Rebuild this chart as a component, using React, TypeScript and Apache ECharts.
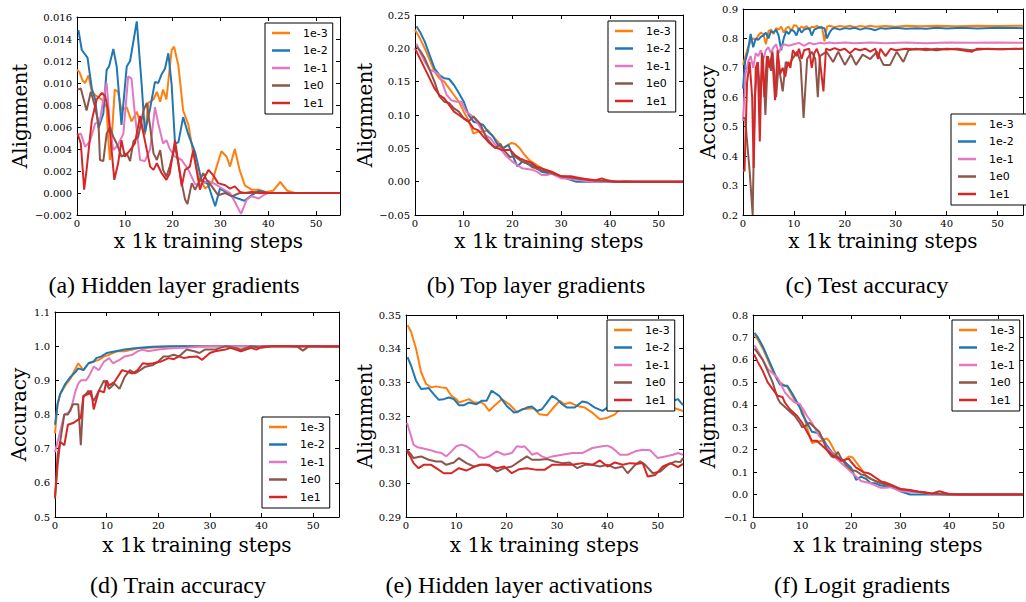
import React, { useEffect, useRef } from "react";
import * as echarts from "echarts";

type Pt = [number, number];

const SERIES_NAMES = ["1e-3", "1e-2", "1e-1", "1e0", "1e1"];
const COLORS = ["#ff7f0e", "#1f77b4", "#e377c2", "#8c564b", "#d62728"];
const X_MIN = 0;
const X_MAX = 55;
const X_STEP = 10;
const X_NAME = "x 1k training steps";

// (a) Hidden layer gradients
const hidGrad_1e3: Pt[] = [[0,0.0112],[0.5,0.011],[1.2,0.0102],[1.7,0.010],[2.4,0.0107],[3.1,0.0092],[4.1,0.0088],[5.2,0.0085],[6.2,0.0078],[6.5,0.0051],[6.9,0.003],[7.4,0.006],[7.9,0.0094],[8.6,0.0092],[9.3,0.0075],[10.4,0.0078],[11.4,0.0065],[12.5,0.0074],[13.5,0.006],[14.2,0.0053],[14.9,0.0082],[16,0.0085],[16.7,0.0092],[17.4,0.0083],[18,0.0094],[18.7,0.0085],[19.3,0.011],[19.8,0.013],[20.3,0.0133],[21.2,0.0116],[22.2,0.0075],[23.3,0.0062],[24.3,0.0036],[25.4,0.0015],[26.8,0.0004],[28.2,0.0009],[29.2,0.0024],[30.2,0.0038],[31.3,0.0033],[32,0.0024],[33,0.004],[34,0.0021],[35.1,0.0007],[36.5,0.0003],[38,0.0003],[39.5,0.0001],[41,0.0002],[42.5,0.001],[44,0.0002],[45.5,0],[55,0]];
const hidGrad_1e2: Pt[] = [[0.3,0.0148],[1,0.013],[2.2,0.0123],[3.1,0.0095],[3.8,0.0085],[4.5,0.0059],[5.5,0.0072],[6.2,0.0112],[6.7,0.0115],[7.6,0.0131],[8.3,0.0115],[9.3,0.0062],[10.4,0.0115],[11.1,0.012],[12.5,0.0156],[13.5,0.01],[14.2,0.0055],[15.3,0.0077],[16.3,0.0101],[17,0.01],[17.7,0.0108],[18.4,0.0113],[19.1,0.0127],[19.8,0.0098],[20.5,0.0045],[21.2,0.0046],[22.2,0.0069],[23.3,0.0053],[24.7,0.0037],[26,0.0012],[27.4,0.0008],[28.9,-0.0012],[29.9,0.0004],[31.5,0],[33,-0.0004],[35,-0.0007],[36.5,-0.0002],[38,0.0002],[40,0],[55,0]];
const hidGrad_1e1: Pt[] = [[0.3,0.0053],[0.8,0.0054],[1.7,0.0042],[2.7,0.0047],[3.8,0.0063],[4.8,0.0066],[5.5,0.0085],[6.2,0.010],[6.9,0.006],[7.6,0.0039],[8.6,0.0044],[9.7,0.0054],[10.7,0.0106],[11.4,0.0104],[12.1,0.0072],[13.2,0.003],[14.2,0.0029],[15.3,0.004],[16.3,0.0078],[17,0.0063],[18,0.0045],[18.7,0.0048],[19.4,0.004],[20.5,0.0033],[21.9,0.003],[23.3,0.0021],[24.7,0.0008],[26.1,0.0008],[27.5,0.0011],[28.9,0.0008],[30,0.0005],[32,0],[33,-0.0008],[34.3,-0.0019],[35.5,-0.0006],[36.5,-0.0003],[38,-0.0005],[39,-0.0002],[40,0],[55,0]];
const hidGrad_1e0: Pt[] = [[0.1,0.0094],[0.8,0.0095],[2,0.0075],[2.9,0.0092],[3.8,0.0078],[4.5,0.0063],[4.8,0.003],[5.5,0.0029],[6.2,0.0054],[6.9,0.006],[7.6,0.0051],[8.3,0.0045],[9.3,0.0033],[10.4,0.0036],[11.1,0.0029],[11.8,0.0047],[12.8,0.0051],[13.9,0.0075],[14.6,0.0082],[15.3,0.006],[16,0.0036],[16.7,0.003],[17.4,0.0039],[18,0.0021],[18.7,0.0015],[19.4,0.0024],[20.5,0.0042],[21.2,0.0027],[21.9,0.0009],[22.6,-0.0006],[23.1,-0.001],[24,0.0009],[24.7,0.0003],[25.4,0.0009],[26.4,0.0018],[27.1,0.0012],[28.2,0.0006],[29.5,-0.0002],[31,0],[32.4,-0.0003],[34,0],[36,0],[38,0.0001],[40,0],[55,0]];
const hidGrad_1e1b: Pt[] = [[0.1,0.0054],[0.8,0.0045],[1.5,0.0003],[2,0.0021],[3.1,0.0066],[4.1,0.0085],[5.2,0.0091],[5.9,0.0088],[6.5,0.0075],[7.3,0.0036],[7.8,0.0012],[8.6,0.0027],[9.3,0.0048],[10,0.0033],[11.1,0.0039],[12.1,0.0045],[13.2,0.007],[13.9,0.0054],[14.6,0.0039],[15.3,0.0024],[16,0.0021],[16.7,0.0027],[17.7,0.0018],[18.7,0.0012],[19.4,0.0018],[20.5,0.0048],[21.2,0.0027],[21.9,0.0006],[22.6,0.0021],[23.6,0.0024],[24.3,0.0039],[25,0.0021],[25.7,0.0003],[26.4,0.0012],[27.5,0.0021],[28.5,0.0016],[29.5,0.0009],[31,0.0007],[32,0.0004],[33,0.0006],[34.1,0.0001],[35.1,0],[36.5,0.0001],[38,0],[55,0]];

// (b) Top layer gradients
const topGrad_1e3: Pt[] = [[0,0.228],[1,0.215],[2,0.2],[3,0.183],[4,0.165],[5,0.155],[6,0.15],[7,0.14],[8,0.13],[9,0.12],[10,0.105],[11,0.092],[12,0.072],[13,0.075],[14,0.075],[15,0.077],[16,0.068],[17,0.06],[18,0.05],[19,0.055],[19.8,0.058],[20.5,0.057],[21.5,0.05],[22.5,0.04],[23.5,0.032],[25,0.025],[26.5,0.018],[28,0.015],[30,0.008],[32,0.006],[34,0.005],[36,0.002],[38,0.002],[40,0.001],[42,0],[43,0.001],[45,0],[55,0]];
const topGrad_1e2: Pt[] = [[0.3,0.233],[1,0.225],[2,0.21],[3,0.19],[4,0.17],[5,0.16],[6,0.155],[7,0.154],[8,0.145],[9,0.133],[10,0.12],[11,0.1],[12,0.09],[13,0.088],[14,0.085],[15,0.075],[16,0.068],[17,0.055],[18,0.05],[19.2,0.055],[20,0.04],[21,0.023],[22,0.03],[23,0.027],[24,0.025],[25,0.02],[26,0.015],[28,0.012],[29.5,0.008],[31,0.005],[33,0],[55,0]];
const topGrad_1e1: Pt[] = [[0.3,0.207],[1,0.195],[2,0.18],[3,0.168],[4,0.165],[5,0.16],[5.5,0.15],[6.5,0.13],[7.5,0.122],[8.5,0.12],[9.5,0.12],[10.5,0.105],[11.5,0.1],[12.5,0.092],[13.5,0.08],[14.5,0.07],[15.5,0.065],[16.5,0.055],[17.5,0.05],[18.5,0.04],[20,0.03],[21,0.025],[22,0.02],[24,0.018],[25,0.015],[26,0.01],[27,0.01],[28,0.012],[30,0.005],[32,0.004],[34,0.002],[36,0],[55,0]];
const topGrad_1e0: Pt[] = [[0.3,0.203],[1,0.197],[2,0.185],[3,0.168],[4,0.15],[5,0.128],[6,0.12],[7,0.118],[8,0.11],[9,0.105],[10,0.095],[11,0.09],[12,0.098],[13,0.09],[13.5,0.085],[14.5,0.068],[15.5,0.058],[16.5,0.05],[17.5,0.057],[18.5,0.045],[19.5,0.037],[20.5,0.038],[22,0.03],[23,0.028],[24,0.022],[26,0.017],[28,0.013],[30,0.008],[33,0.005],[36,0.002],[39,0.001],[41,0],[55,0]];
const topGrad_1e1b: Pt[] = [[0,0.2],[1,0.185],[2,0.17],[3,0.155],[4,0.14],[5,0.13],[6,0.125],[7,0.115],[8,0.105],[9,0.1],[10,0.095],[11,0.09],[12,0.08],[13,0.077],[14,0.068],[15,0.06],[16,0.053],[17,0.05],[18,0.047],[19.5,0.048],[20.5,0.04],[21.5,0.035],[22.5,0.032],[24,0.028],[25,0.022],[26,0.02],[28,0.015],[30,0.008],[32,0.008],[34,0.005],[35,0.004],[37,0.002],[38.3,0.005],[39.5,0.002],[41,0],[55,0]];

// (c) Test accuracy
const testAcc_1e3: Pt[] = [[0,0.71],[0.5,0.74],[1,0.77],[1.5,0.79],[2,0.8],[2.5,0.795],[3,0.81],[3.5,0.82],[4,0.815],[4.5,0.78],[5,0.825],[5.5,0.83],[6,0.815],[6.5,0.835],[7,0.83],[7.5,0.84],[8,0.82],[8.5,0.835],[9,0.84],[9.5,0.825],[10,0.845],[10.5,0.843],[11,0.83],[11.5,0.84],[12,0.835],[12.5,0.842],[13,0.83],[13.5,0.84],[14,0.838],[14.5,0.843],[15,0.835],[15.5,0.84],[16,0.79],[16.5,0.84],[17,0.843],[18,0.838],[19,0.842],[20,0.84],[21,0.843],[22,0.838],[23,0.842],[24,0.84],[25,0.843],[26,0.84],[28,0.842],[30,0.84],[32,0.843],[35,0.841],[38,0.843],[42,0.841],[46,0.843],[50,0.842],[55,0.843]];
const testAcc_1e2: Pt[] = [[0,0.63],[0.4,0.72],[1,0.76],[1.5,0.815],[2,0.77],[2.5,0.8],[3,0.795],[3.5,0.805],[4,0.81],[4.5,0.82],[5,0.8],[5.5,0.825],[6,0.82],[6.5,0.83],[7,0.81],[7.5,0.76],[8,0.8],[8.5,0.825],[9,0.815],[9.5,0.83],[10,0.825],[10.5,0.81],[11,0.835],[11.5,0.82],[12,0.83],[13,0.835],[13.5,0.81],[14,0.83],[15,0.838],[16,0.835],[16.5,0.8],[17,0.82],[17.5,0.832],[18,0.835],[19,0.83],[20,0.835],[21,0.833],[22,0.836],[23,0.83],[24,0.835],[25,0.833],[26,0.828],[27,0.835],[28,0.833],[30,0.836],[32,0.833],[34,0.835],[36,0.833],[38,0.836],[40,0.834],[43,0.836],[46,0.834],[50,0.836],[55,0.835]];
const testAcc_1e1: Pt[] = [[0,0.52],[0.5,0.68],[1,0.72],[1.5,0.74],[2,0.7],[2.5,0.75],[3,0.74],[3.5,0.76],[4,0.73],[4.5,0.76],[5,0.77],[5.5,0.75],[6,0.77],[6.5,0.78],[7,0.75],[7.5,0.77],[8,0.78],[9,0.775],[10,0.78],[11,0.785],[12,0.775],[13,0.785],[14,0.78],[15,0.785],[16,0.783],[17,0.786],[18,0.784],[20,0.786],[22,0.784],[25,0.786],[28,0.784],[32,0.786],[36,0.784],[40,0.786],[45,0.785],[50,0.786],[55,0.785]];
const testAcc_1e0: Pt[] = [[0,0.53],[0.4,0.53],[0.8,0.45],[1.3,0.35],[1.9,0.2],[2.3,0.6],[2.9,0.72],[3.4,0.6],[3.9,0.74],[4.4,0.54],[4.9,0.74],[5.5,0.69],[5.8,0.755],[6.5,0.6],[7,0.71],[7.8,0.62],[8.4,0.72],[9,0.71],[9.7,0.73],[10.6,0.755],[11.3,0.72],[11.9,0.53],[12.6,0.73],[13.5,0.755],[14.2,0.73],[14.7,0.6],[15.1,0.74],[16.4,0.755],[17.7,0.72],[18.7,0.755],[20,0.71],[21.2,0.745],[22.2,0.71],[23.5,0.745],[25,0.73],[26.3,0.755],[27.6,0.71],[28.9,0.71],[30.2,0.755],[31.5,0.72],[32.5,0.76],[34,0.765],[36,0.76],[38,0.765],[40,0.762],[42,0.765],[45,0.76],[48,0.765],[51,0.763],[55,0.765]];
const testAcc_1e1b: Pt[] = [[0,0.35],[0.3,0.35],[0.8,0.65],[1.3,0.72],[1.8,0.6],[2.1,0.36],[2.5,0.7],[2.9,0.72],[3.3,0.45],[3.7,0.75],[4.2,0.6],[4.7,0.74],[5.2,0.7],[5.7,0.75],[6.3,0.59],[6.8,0.76],[7.3,0.68],[7.8,0.7],[8.3,0.67],[8.8,0.72],[9.3,0.7],[9.8,0.76],[10.5,0.74],[11,0.765],[11.5,0.73],[12,0.76],[13,0.765],[13.5,0.7],[14,0.75],[14.5,0.765],[15,0.74],[15.8,0.62],[16.3,0.765],[17,0.76],[18,0.767],[19,0.76],[20,0.765],[21,0.75],[22,0.765],[23,0.76],[24,0.765],[25,0.755],[26,0.765],[26.5,0.73],[27,0.765],[28,0.74],[29,0.765],[30,0.76],[32,0.765],[34,0.762],[36,0.765],[38,0.76],[40,0.765],[42,0.762],[45,0.755],[46,0.765],[50,0.763],[55,0.765]];

// (d) Train accuracy
const trainAcc_1e3: Pt[] = [[0,0.745],[0.5,0.83],[1,0.86],[2,0.885],[3,0.905],[3.5,0.92],[4.5,0.95],[5.5,0.93],[6.5,0.95],[7.5,0.955],[8.5,0.96],[9.5,0.97],[10.5,0.975],[12,0.985],[13.5,0.985],[15,0.99],[16.5,0.995],[18,0.995],[20,0.997],[22,0.998],[25,1.0],[55,1.0]];
const trainAcc_1e2: Pt[] = [[0,0.77],[0.5,0.83],[1,0.86],[2,0.89],[3,0.91],[4,0.925],[4.5,0.935],[5.5,0.93],[6.5,0.95],[7.5,0.955],[8,0.965],[9,0.97],[10,0.98],[11,0.983],[12,0.986],[13.5,0.99],[15,0.993],[17,0.996],[19,0.998],[22,1.0],[55,1.0]];
const trainAcc_1e1: Pt[] = [[0,0.69],[0.5,0.72],[1,0.75],[1.8,0.8],[2.5,0.805],[3,0.81],[3.5,0.84],[4,0.87],[4.5,0.89],[5,0.9],[6,0.9],[6.5,0.91],[7.5,0.94],[8.5,0.93],[9.5,0.955],[10.5,0.965],[11.2,0.95],[12.5,0.96],[13.5,0.97],[15,0.975],[16,0.985],[17,0.99],[18,0.985],[20,0.99],[22,0.993],[25,0.995],[28,0.998],[30,1.0],[55,1.0]];
const trainAcc_1e0: Pt[] = [[0,0.555],[0.5,0.65],[1,0.72],[1.8,0.8],[2.5,0.8],[3.5,0.83],[4.5,0.83],[5,0.71],[5.5,0.85],[6.5,0.87],[7.5,0.84],[8.5,0.87],[9.5,0.9],[10.5,0.875],[11.5,0.89],[12.5,0.875],[13.5,0.91],[14.5,0.93],[15.5,0.92],[16.5,0.93],[17.5,0.94],[19,0.945],[20,0.955],[21,0.97],[22,0.97],[23,0.975],[24,0.97],[25.5,0.99],[27,0.985],[28,0.98],[29,0.99],[31,0.99],[33,1.0],[35,0.995],[36,0.99],[38,1.0],[40,0.995],[42,1.0],[45,1.0],[47,0.998],[48,0.987],[49,0.998],[50,1.0],[52,0.998],[55,0.998]];
const trainAcc_1e1b: Pt[] = [[0,0.555],[0.5,0.68],[1,0.72],[1.8,0.71],[2.5,0.77],[3.5,0.775],[4.5,0.785],[5,0.79],[5.5,0.855],[6.5,0.86],[7,0.87],[7.5,0.815],[8.5,0.87],[9.5,0.865],[10,0.9],[10.5,0.885],[11.5,0.895],[13,0.93],[14,0.925],[15,0.92],[16,0.93],[17,0.95],[18,0.948],[19,0.95],[20.5,0.955],[22,0.965],[23,0.962],[24,0.97],[25,0.965],[26,0.968],[27.5,0.97],[28.5,0.96],[30,0.98],[31,0.985],[33,0.99],[34,0.995],[36,0.985],[38,0.995],[39,0.99],[40,0.998],[42,1.0],[55,1.0]];

// (e) Hidden layer activations
const hidAct_1e3: Pt[] = [[0.3,0.347],[1,0.345],[2,0.34],[3,0.333],[4,0.3295],[5,0.3285],[6,0.3288],[7,0.3285],[8,0.3283],[9,0.326],[10,0.325],[10.5,0.324],[11.5,0.3245],[12.5,0.325],[13.5,0.324],[15,0.324],[15.5,0.3235],[16.5,0.3215],[17.5,0.323],[19,0.325],[20.5,0.3235],[21.5,0.322],[22,0.321],[23,0.322],[24.5,0.3222],[25.5,0.3222],[26.5,0.3205],[28,0.3202],[29,0.322],[30.5,0.3245],[31.5,0.3235],[32.5,0.324],[34,0.323],[35.5,0.3225],[37,0.321],[38.5,0.319],[40,0.3195],[41.5,0.3205],[43,0.323],[45,0.324],[47,0.323],[49,0.324],[51,0.3235],[53,0.3225],[55,0.3215]];
const hidAct_1e2: Pt[] = [[0.3,0.3375],[1,0.335],[2,0.3305],[3,0.328],[4,0.3282],[4.5,0.3283],[5.5,0.3265],[6.5,0.3248],[7.5,0.325],[8.5,0.3255],[9.5,0.325],[10.5,0.3232],[11.5,0.3232],[12.5,0.324],[14,0.3235],[15,0.3245],[16,0.3245],[17,0.3275],[18.5,0.326],[20,0.323],[21.5,0.321],[22.5,0.3215],[24,0.3225],[25,0.3228],[26,0.3215],[27,0.322],[28,0.324],[29,0.326],[30,0.325],[31,0.3235],[32,0.3225],[33.5,0.3225],[35,0.3243],[36,0.324],[37.5,0.3225],[39,0.3215],[40,0.3225],[42,0.3235],[44,0.323],[46,0.3245],[48,0.324],[50,0.3235],[52,0.324],[54,0.325],[55,0.3232]];
const hidAct_1e1: Pt[] = [[0.2,0.318],[0.8,0.315],[1.5,0.3115],[2.3,0.3107],[3,0.3105],[4.5,0.31],[6,0.3093],[7,0.309],[8,0.308],[9,0.3095],[10,0.311],[11,0.3115],[12,0.311],[13.5,0.3095],[14.5,0.3078],[15.5,0.3075],[16.5,0.308],[18,0.3095],[19.5,0.3085],[21,0.309],[22,0.311],[23,0.3108],[23.5,0.311],[24.5,0.3095],[25,0.3085],[26,0.309],[27,0.308],[28,0.3075],[29,0.308],[31,0.3085],[33,0.309],[35,0.309],[37,0.3105],[39,0.311],[40,0.3112],[41,0.3105],[42.5,0.3085],[44,0.3085],[45.5,0.3095],[47,0.31],[48.5,0.3098],[50,0.3075],[51.5,0.308],[53,0.3085],[54,0.309],[55,0.3085]];
const hidAct_1e0: Pt[] = [[0.2,0.31],[1,0.3085],[1.5,0.3075],[3,0.308],[4.5,0.307],[6,0.3065],[7,0.3065],[8,0.3055],[9.5,0.3062],[10.5,0.3075],[12,0.306],[13.5,0.305],[15,0.3055],[16.5,0.3055],[18,0.3035],[19.5,0.3045],[21,0.305],[22.5,0.3065],[24,0.308],[25,0.307],[26.5,0.307],[28,0.3072],[29.5,0.3065],[31,0.306],[32.5,0.3062],[34,0.3045],[35.5,0.3055],[37,0.3055],[38.5,0.305],[40,0.3055],[41.5,0.3045],[43,0.305],[44,0.303],[45.5,0.3055],[46.5,0.3065],[47.5,0.3055],[49,0.303],[50.5,0.3035],[52,0.3055],[53.5,0.3065],[54.5,0.3063],[55,0.3075]];
const hidAct_1e1b: Pt[] = [[0.2,0.3095],[1,0.3075],[1.5,0.306],[2.5,0.3045],[3.5,0.3055],[5,0.3055],[6,0.3045],[7.5,0.303],[9,0.303],[10.5,0.3045],[12,0.3038],[13,0.3045],[14.5,0.3055],[16,0.3055],[18,0.3045],[19.5,0.305],[21,0.303],[22.5,0.3042],[24,0.3045],[26,0.304],[27.5,0.304],[29,0.3055],[31,0.3055],[33,0.3055],[35,0.306],[37,0.3055],[38.5,0.3068],[40,0.305],[41.5,0.3062],[43,0.3055],[44.5,0.306],[46,0.3058],[47,0.306],[48,0.302],[49.5,0.3025],[51,0.305],[52.5,0.306],[54,0.3048],[55,0.3058]];

// (f) Logit gradients
const logitGrad_1e3: Pt[] = [[0.3,0.71],[1,0.69],[2,0.65],[3,0.6],[4,0.55],[5,0.51],[5.5,0.5],[6.5,0.485],[7,0.48],[8,0.44],[8.5,0.42],[9.5,0.39],[10,0.38],[11,0.3],[12,0.23],[13,0.235],[14,0.24],[15,0.25],[15.5,0.24],[16.5,0.2],[17.5,0.16],[18.5,0.15],[19.5,0.17],[20.3,0.165],[21.5,0.13],[22.5,0.1],[23,0.08],[25,0.06],[26,0.055],[27,0.055],[28,0.04],[30,0.02],[32,0.015],[34,0.01],[36,0.005],[38,0.003],[40,0],[43,0.003],[45,0],[55,0]];
const logitGrad_1e2: Pt[] = [[0.3,0.72],[1,0.7],[2,0.66],[3,0.61],[4,0.56],[5,0.51],[5.5,0.49],[6.5,0.485],[7,0.485],[8,0.45],[8.5,0.43],[9.5,0.39],[10,0.36],[11,0.32],[12,0.28],[13,0.275],[13.5,0.27],[14.5,0.24],[15,0.22],[16,0.19],[17,0.17],[18.5,0.15],[19.5,0.13],[20,0.12],[21,0.065],[22,0.08],[23,0.07],[24,0.05],[25,0.05],[26,0.04],[28,0.035],[30,0.015],[32,0],[55,0]];
const logitGrad_1e1: Pt[] = [[0.3,0.665],[1,0.64],[2,0.6],[3,0.56],[4,0.54],[5,0.52],[5.5,0.5],[6.5,0.455],[7.5,0.43],[8.5,0.41],[9.5,0.405],[10.5,0.37],[11,0.35],[12,0.32],[12.5,0.3],[13.5,0.26],[14,0.25],[15,0.21],[16,0.185],[17,0.16],[18.5,0.13],[19.5,0.11],[20,0.1],[21,0.08],[22,0.06],[23,0.055],[24,0.05],[25,0.04],[26,0.03],[27,0.03],[28,0.033],[30,0.015],[32,0.012],[34,0.01],[36,0.003],[38,0],[55,0]];
const logitGrad_1e0: Pt[] = [[0.3,0.65],[1,0.63],[2,0.6],[3,0.55],[4,0.5],[5,0.43],[5.5,0.41],[6.5,0.39],[7,0.38],[8,0.36],[8.5,0.35],[9.5,0.32],[10,0.3],[11,0.31],[11.5,0.32],[12.5,0.3],[13.5,0.28],[14.5,0.23],[15,0.2],[16,0.17],[16.5,0.165],[17.3,0.19],[18,0.16],[19,0.13],[20,0.11],[21,0.105],[22,0.09],[23,0.085],[24,0.07],[25,0.06],[26,0.05],[28,0.04],[30,0.025],[33,0.015],[36,0.005],[38,0.002],[40,0],[55,0]];
const logitGrad_1e1b: Pt[] = [[0.2,0.625],[1,0.59],[2,0.55],[3,0.5],[4,0.47],[5,0.44],[6,0.435],[6.5,0.41],[7.5,0.38],[8.5,0.36],[9,0.35],[10,0.32],[10.5,0.3],[11.5,0.26],[12,0.24],[13,0.24],[14,0.22],[15,0.2],[16.5,0.17],[17.5,0.16],[18,0.15],[19.5,0.16],[20,0.145],[21,0.12],[22.5,0.1],[23.5,0.095],[24,0.09],[25,0.075],[26,0.06],[28,0.045],[30,0.025],[32,0.02],[34,0.012],[35,0.01],[36.5,0.005],[38,0.015],[39,0.008],[40,0.003],[42,0],[55,0]];

const PANELS = [
  { caption: "(a) Hidden layer gradients", yName: "Alignment", yMin: -0.002, yMax: 0.016, yStep: 0.002, dec: 3,
    series: [hidGrad_1e3, hidGrad_1e2, hidGrad_1e1, hidGrad_1e0, hidGrad_1e1b],
    grid: { left: 77, top: 17, width: 263, height: 198 }, yGap: 47, xGap: 16,
    legend: { left: 265, top: 23, padR: 5 }, cap: { x: 174, y: 285 } },
  { caption: "(b) Top layer gradients", yName: "Alignment", yMin: -0.05, yMax: 0.25, yStep: 0.05, dec: 2,
    series: [topGrad_1e3, topGrad_1e2, topGrad_1e1, topGrad_1e0, topGrad_1e1b],
    grid: { left: 415, top: 15, width: 268, height: 200 }, yGap: 40, xGap: 16,
    legend: { left: 608, top: 21, padR: 5 }, cap: { x: 536, y: 285 } },
  { caption: "(c) Test accuracy", yName: "Accuracy", yMin: 0.2, yMax: 0.9, yStep: 0.1, dec: 1,
    series: [testAcc_1e3, testAcc_1e2, testAcc_1e1, testAcc_1e0, testAcc_1e1b],
    grid: { left: 743, top: 9, width: 286, height: 206 }, yGap: 25, xGap: 16,
    legend: { left: 951, top: 114, padR: 20 }, cap: { x: 867, y: 285 } },
  { caption: "(d) Train accuracy", yName: "Accuracy", yMin: 0.5, yMax: 1.1, yStep: 0.1, dec: 1,
    series: [trainAcc_1e3, trainAcc_1e2, trainAcc_1e1, trainAcc_1e0, trainAcc_1e1b],
    grid: { left: 55, top: 312, width: 284, height: 205 }, yGap: 26, xGap: 18,
    legend: { left: 262, top: 417, padR: 5 }, cap: { x: 178, y: 585 } },
  { caption: "(e) Hidden layer activations", yName: "Alignment", yMin: 0.29, yMax: 0.35, yStep: 0.01, dec: 2,
    series: [hidAct_1e3, hidAct_1e2, hidAct_1e1, hidAct_1e0, hidAct_1e1b],
    grid: { left: 406, top: 315, width: 277, height: 202 }, yGap: 31, xGap: 18,
    legend: { left: 607, top: 320, padR: 5 }, cap: { x: 519, y: 585 } },
  { caption: "(f) Logit gradients", yName: "Alignment", yMin: -0.1, yMax: 0.8, yStep: 0.1, dec: 1,
    series: [logitGrad_1e3, logitGrad_1e2, logitGrad_1e1, logitGrad_1e0, logitGrad_1e1b],
    grid: { left: 753, top: 315, width: 276, height: 202 }, yGap: 35, xGap: 18,
    legend: { left: 952, top: 320, padR: 5 }, cap: { x: 862, y: 585 } },
];

const SERIF = '"DejaVu Serif", serif';
const SANS = '"DejaVu Sans", sans-serif';
const TIMES = '"Liberation Serif", "Times New Roman", serif';

function fmt(v: number, dec: number): string {
  const s = Math.abs(v) < 1e-12 ? (0).toFixed(dec) : v.toFixed(dec);
  return s.replace("-", "\u2212");
}

function buildOption() {
  const grid: any[] = [];
  const xAxis: any[] = [];
  const yAxis: any[] = [];
  const series: any[] = [];
  const legend: any[] = [];
  const graphic: any[] = [];
  const line = { show: true, onZero: false, lineStyle: { color: "#000", width: 1 } };
  const tick = { show: true, inside: true, length: 4, lineStyle: { color: "#000", width: 1 } };

  PANELS.forEach((p, i) => {
    grid.push({ ...p.grid, containLabel: false });
    xAxis.push({
      type: "value", gridIndex: i, min: X_MIN, max: X_MAX, interval: X_STEP, position: "bottom",
      name: X_NAME, nameLocation: "middle", nameGap: p.xGap,
      nameTextStyle: { fontFamily: SERIF, fontSize: 20, color: "#000" },
      axisLine: line, axisTick: tick, splitLine: { show: false },
      axisLabel: { fontFamily: SERIF, fontSize: 10, color: "#000", margin: 3,
        formatter: (v: number) => (v % X_STEP === 0 ? String(v) : "") },
    });
    xAxis.push({
      type: "value", gridIndex: i, min: X_MIN, max: X_MAX, interval: X_STEP, position: "top",
      axisLine: line, axisTick: tick, splitLine: { show: false }, axisLabel: { show: false },
    });
    yAxis.push({
      type: "value", gridIndex: i, min: p.yMin, max: p.yMax, interval: p.yStep, position: "left",
      name: p.yName, nameLocation: "middle", nameGap: p.yGap,
      nameTextStyle: { fontFamily: SERIF, fontSize: 20, color: "#000" },
      axisLine: line, axisTick: tick, splitLine: { show: false },
      axisLabel: { fontFamily: SERIF, fontSize: 10, color: "#000", margin: 5,
        formatter: (v: number) => fmt(v, p.dec) },
    });
    yAxis.push({
      type: "value", gridIndex: i, min: p.yMin, max: p.yMax, interval: p.yStep, position: "right",
      axisLine: line, axisTick: tick, splitLine: { show: false }, axisLabel: { show: false },
    });
    p.series.forEach((d, k) => {
      series.push({
        type: "line", name: SERIES_NAMES[k], xAxisIndex: 2 * i, yAxisIndex: 2 * i,
        data: d, showSymbol: false, symbol: "none", clip: true,
        lineStyle: { color: COLORS[k], width: 2 }, itemStyle: { color: COLORS[k] },
      });
    });
    legend.push({
      data: SERIES_NAMES, orient: "vertical", left: p.legend.left, top: p.legend.top,
      padding: [3, p.legend.padR, 4, 7], itemGap: 3.5, itemWidth: 18, itemHeight: 2.5,
      icon: "rect", borderColor: "#000", borderWidth: 1, borderRadius: 0, backgroundColor: "#fff",
      selectedMode: false,
      textStyle: { fontFamily: SANS, fontSize: 11, color: "#000", lineHeight: 14, padding: [0, 0, 0, 8] },
    });
    graphic.push({
      type: "text", x: p.cap.x, y: p.cap.y,
      style: { text: p.caption, fontFamily: TIMES, fontSize: 24, fill: "#000", align: "center", verticalAlign: "middle" },
    });
  });

  return { animation: false, backgroundColor: "#fff", grid, xAxis, yAxis, series, legend, graphic };
}

export default function App() {
  const ref = useRef<HTMLDivElement>(null);
  useEffect(() => {
    if (!ref.current) return;
    const chart = echarts.init(ref.current, undefined, { renderer: "svg" });
    chart.setOption(buildOption() as any);
    return () => chart.dispose();
  }, []);
  return (
    <div
      ref={ref}
      style={{ position: "absolute", left: 0, top: 0, width: 1026, height: 602, background: "#fff" }}
    />
  );
}
